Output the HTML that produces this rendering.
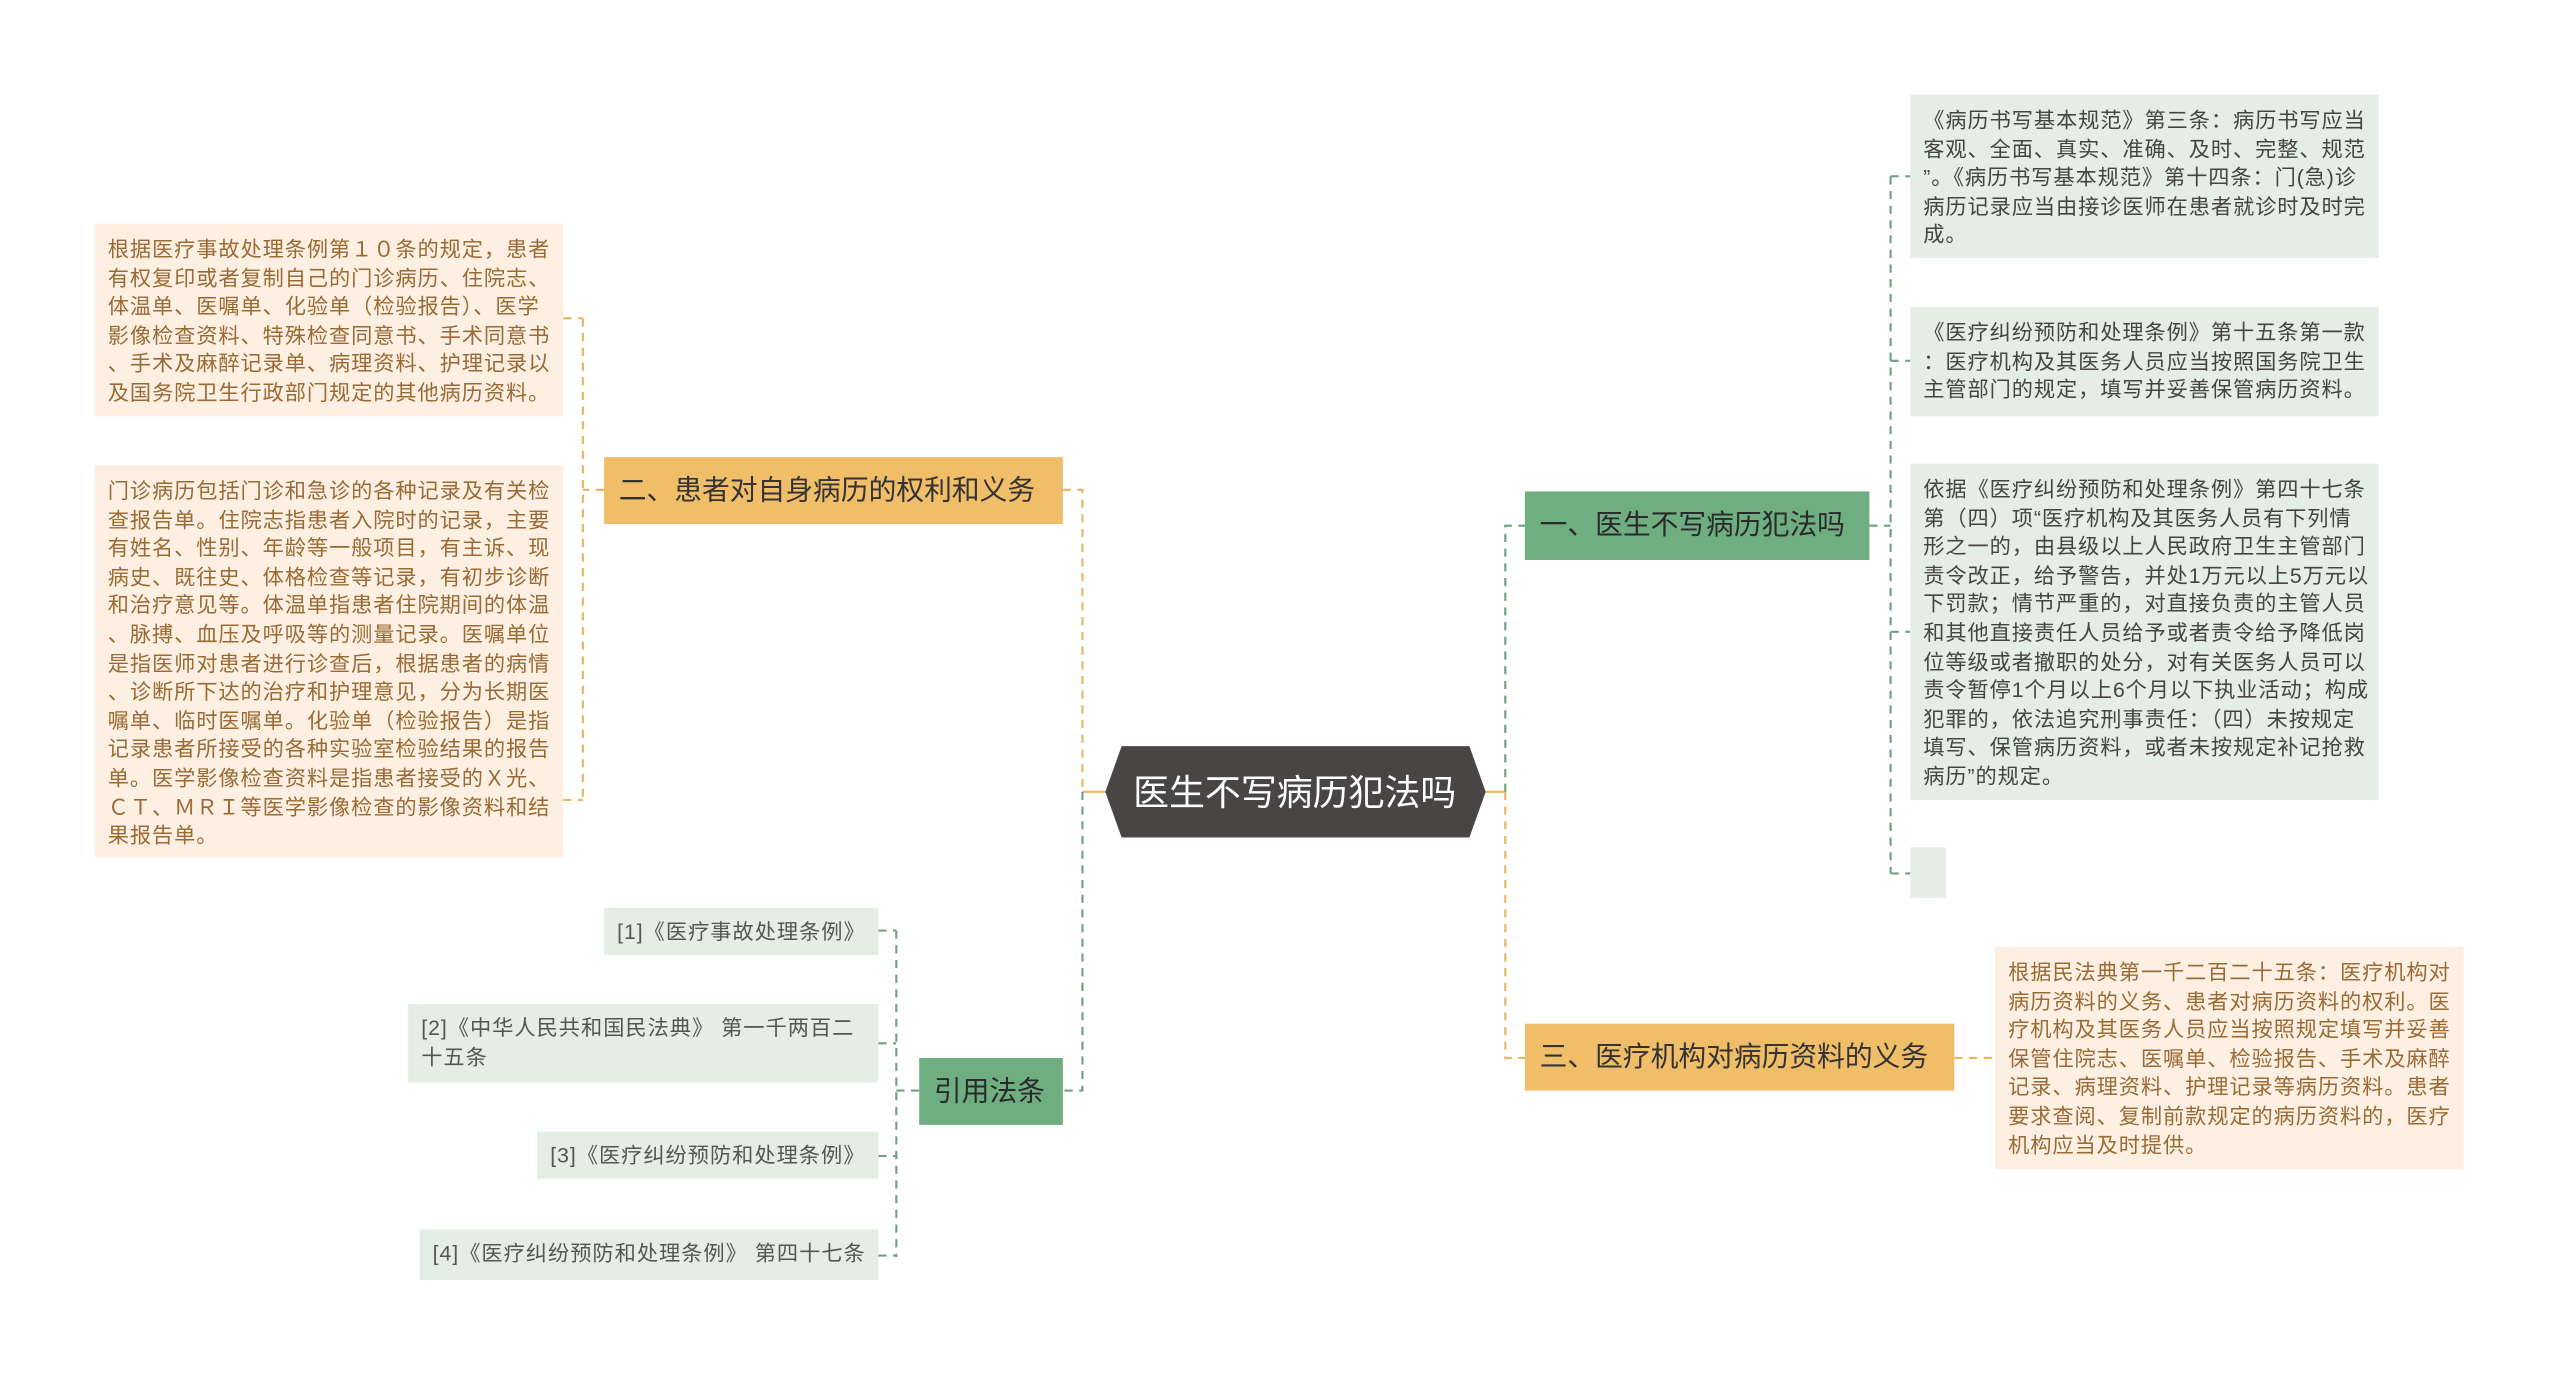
<!DOCTYPE html>
<html><head><meta charset="utf-8">
<style>
html,body{margin:0;padding:0;background:#fff;}
body{width:2560px;height:1377px;overflow:hidden;position:relative;}
#s{position:absolute;left:0;top:0;width:1568px;height:844px;transform:scale(1.63265);transform-origin:0 0;font-family:"Liberation Sans","Noto Sans CJK SC",sans-serif;}
.b{position:absolute;box-sizing:border-box;}
.leafo,.leafg{line-break:anywhere;word-break:break-all;}
.leafo{background:#fdf0e2;color:#9a6a35;font-size:13px;letter-spacing:0.55px;line-height:17.6px;padding:7px 6px 7px 8px;}
.leafg{background:#e5eee5;color:#444;font-size:13px;letter-spacing:0.55px;line-height:17.6px;padding:7px 6px 7px 8px;}
.bro{background:#f0bd68;color:#333;font-size:17px;line-height:41px;padding:0 9px;white-space:nowrap;}
.brg{background:#6fae80;color:#2a2a2a;font-size:17px;line-height:42px;padding:0 9px;white-space:nowrap;}
.ref{background:#e5eee5;color:#555;font-size:13px;letter-spacing:0.6px;line-height:17.6px;padding:6px 8px;line-break:anywhere;}
</style></head><body>
<div id="s">
<svg width="1568" height="844" style="position:absolute;left:0;top:0">
<g fill="none" stroke-width="1.3">
<path d="M651 300 H663 V485" stroke="#e8b562" stroke-dasharray="5,4"/>
<path d="M663 485 H677" stroke="#e8b562"/>
<path d="M663 485 V668 H651" stroke="#6fa080" stroke-dasharray="5,4"/>
<path d="M370 300 H357 M357 195 V490 M345 195 H357 M345 490 H357" stroke="#e8b562" stroke-dasharray="5,4"/>
<path d="M563 668 H549 M549 570 V770 M538 570 H549 M538 639 H549 M538 708 H549 M538 769 H549" stroke="#6fa080" stroke-dasharray="5,4"/>
<path d="M910 485 H922" stroke="#e8b562"/>
<path d="M922 485 V322 H934" stroke="#6fa080" stroke-dasharray="5,4"/>
<path d="M922 485 V648 H934" stroke="#e8b562" stroke-dasharray="5,4"/>
<path d="M1145 322 H1158 M1158 108 V535 M1158 108 H1170 M1158 221 H1170 M1158 387 H1170 M1158 535 H1170" stroke="#6fa080" stroke-dasharray="5,4"/>
<path d="M1197 648 H1222" stroke="#e8b562" stroke-dasharray="5,4"/>
</g>
<polygon points="677,485 687,457 900,457 910,485 900,513 687,513" fill="#4a4545"/>
<text x="793" y="493" text-anchor="middle" fill="#fff" font-size="22" font-family="Liberation Sans, Noto Sans CJK SC, sans-serif">医生不写病历犯法吗</text>
</svg>

<div class="b leafo" style="left:58px;top:137px;width:287px;height:118px;">根据医疗事故处理条例第１０条的规定，患者有权复印或者复制自己的门诊病历、住院志、体温单、医嘱单、化验单（检验报告）、医学影像检查资料、特殊检查同意书、手术同意书、手术及麻醉记录单、病理资料、护理记录以及国务院卫生行政部门规定的其他病历资料。</div>
<div class="b leafo" style="left:58px;top:285px;width:287px;height:240px;">门诊病历包括门诊和急诊的各种记录及有关检查报告单。住院志指患者入院时的记录，主要有姓名、性别、年龄等一般项目，有主诉、现病史、既往史、体格检查等记录，有初步诊断和治疗意见等。体温单指患者住院期间的体温、脉搏、血压及呼吸等的测量记录。医嘱单位是指医师对患者进行诊查后，根据患者的病情、诊断所下达的治疗和护理意见，分为长期医嘱单、临时医嘱单。化验单（检验报告）是指记录患者所接受的各种实验室检验结果的报告单。医学影像检查资料是指患者接受的Ｘ光、ＣＴ、ＭＲＩ等医学影像检查的影像资料和结果报告单。</div>
<div class="b bro" style="left:370px;top:280px;width:281px;height:41px;">二、患者对自身病历的权利和义务</div>

<div class="b brg" style="left:563px;top:648px;width:88px;height:41px;line-height:41px;">引用法条</div>
<div class="b ref" style="left:370px;top:556px;width:168px;height:29px;">[1]《医疗事故处理条例》</div>
<div class="b ref" style="left:250px;top:615px;width:288px;height:48px;">[2]《中华人民共和国民法典》 第一千两百二十五条</div>
<div class="b ref" style="left:329px;top:693px;width:209px;height:29px;white-space:nowrap;">[3]《医疗纠纷预防和处理条例》</div>
<div class="b ref" style="left:257px;top:753px;width:281px;height:31px;white-space:nowrap;">[4]《医疗纠纷预防和处理条例》 第四十七条</div>

<div class="b brg" style="left:934px;top:301px;width:211px;height:42px;">一、医生不写病历犯法吗</div>
<div class="b leafg" style="left:1170px;top:58px;width:287px;height:100px;">《病历书写基本规范》第三条：病历书写应当客观、全面、真实、准确、及时、完整、规范”。《病历书写基本规范》第十四条：门(急)诊病历记录应当由接诊医师在患者就诊时及时完成。</div>
<div class="b leafg" style="left:1170px;top:188px;width:287px;height:67px;">《医疗纠纷预防和处理条例》第十五条第一款：医疗机构及其医务人员应当按照国务院卫生主管部门的规定，填写并妥善保管病历资料。</div>
<div class="b leafg" style="left:1170px;top:284px;width:287px;height:206px;">依据《医疗纠纷预防和处理条例》第四十七条第（四）项“医疗机构及其医务人员有下列情形之一的，由县级以上人民政府卫生主管部门责令改正，给予警告，并处1万元以上5万元以下罚款；情节严重的，对直接负责的主管人员和其他直接责任人员给予或者责令给予降低岗位等级或者撤职的处分，对有关医务人员可以责令暂停1个月以上6个月以下执业活动；构成犯罪的，依法追究刑事责任：（四）未按规定填写、保管病历资料，或者未按规定补记抢救病历”的规定。</div>
<div class="b leafg" style="left:1170px;top:519px;width:22px;height:31px;padding:0;"></div>

<div class="b bro" style="left:934px;top:627px;width:263px;height:41px;">三、医疗机构对病历资料的义务</div>
<div class="b leafo" style="left:1222px;top:580px;width:287px;height:136px;">根据民法典第一千二百二十五条：医疗机构对病历资料的义务、患者对病历资料的权利。医疗机构及其医务人员应当按照规定填写并妥善保管住院志、医嘱单、检验报告、手术及麻醉记录、病理资料、护理记录等病历资料。患者要求查阅、复制前款规定的病历资料的，医疗机构应当及时提供。</div>
</div>
</body></html>
